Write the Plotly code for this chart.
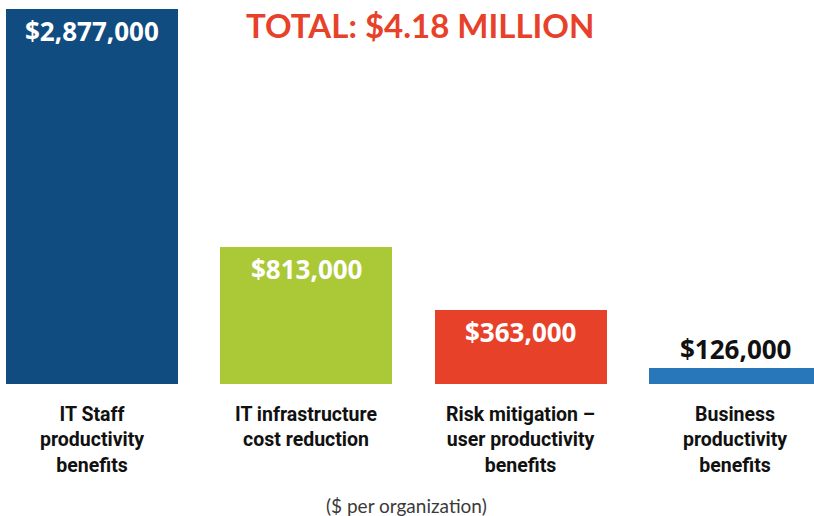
import plotly.graph_objects as go

# categories and values (labels show the real values)
categories = [
    "IT Staff<br>productivity<br>benefits",
    "IT infrastructure<br>cost reduction",
    "Risk mitigation –<br>user productivity<br>benefits",
    "Business<br>productivity<br>benefits",
]
values = [2877000, 813000, 363000, 126000]
# the infographic does not draw bars to scale: heights as drawn, in $ of the first bar
drawn_heights = [2877000, 1052000, 566000, 123000]
bar_colors = ["#114C80", "#ABC937", "#E8412A", "#2777BA"]
label_colors = ["white", "white", "white", "#111111"]
label_inside = [True, True, True, False]

title_text = "TOTAL: $4.18 MILLION"
note_text = "($ per organization)"

x_idx = list(range(len(categories)))

fig = go.Figure()

fig.add_trace(go.Bar(
    x=x_idx,
    y=drawn_heights,
    width=0.8026,
    marker=dict(color=bar_colors, line=dict(width=0)),
    hoverinfo="skip",
    showlegend=False,
))

# value labels
for i, v in enumerate(values):
    fig.add_annotation(
        x=x_idx[i], y=drawn_heights[i],
        xref="x", yref="y",
        text="<b>${:,}</b>".format(v),
        showarrow=False,
        yanchor="middle",
        yshift=-22 if label_inside[i] else 19,
        font=dict(family="Open Sans", size=26, color=label_colors[i]),
    )

# category labels under the bars
for i, c in enumerate(categories):
    fig.add_annotation(
        x=x_idx[i], y=0,
        xref="x", yref="paper",
        text="<b>" + c.replace("<br>", "</b><br><b>") + "</b>",
        showarrow=False,
        yanchor="top",
        yshift=-17,
        align="center",
        font=dict(family="Roboto", size=19.5, color="#111111"),
    )

# plot area is 384 px tall starting at the top of the page
fig.add_annotation(
    x=420 / 814, y=(384 - 25) / 384,
    xref="paper", yref="paper",
    text="<b>" + title_text + "</b>",
    showarrow=False,
    yanchor="middle",
    font=dict(family="Lato", size=33, color="#E8412A"),
)
fig.add_annotation(
    x=406 / 814, y=-(505 - 384) / 384,
    xref="paper", yref="paper",
    text=note_text,
    showarrow=False,
    yanchor="middle",
    font=dict(family="Lato", size=19, color="#3a3a3a"),
)

fig.update_layout(
    width=814,
    height=516,
    margin=dict(l=0, r=0, t=0, b=132),
    paper_bgcolor="white",
    plot_bgcolor="white",
    xaxis=dict(visible=False, range=[-0.4292, 3.3686]),
    yaxis=dict(visible=False, range=[0, 2877000 * 384 / 375]),
    bargap=0,
)

fig.write_html("out.html", config={"displayModeBar": False},
               post_script="document.body.style.margin='0';")
